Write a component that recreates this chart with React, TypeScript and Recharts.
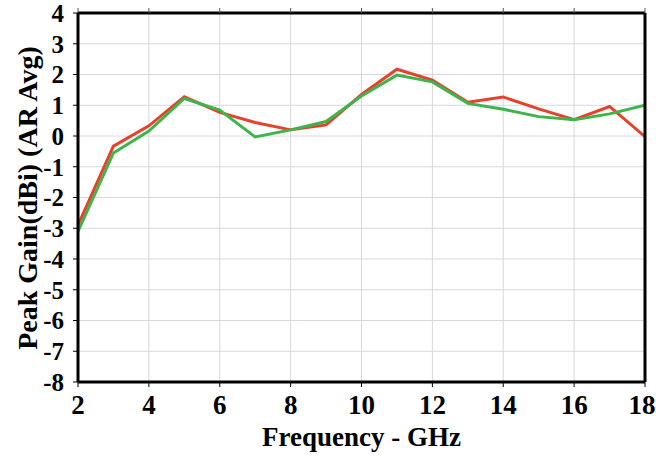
import React from "react";
import { LineChart, Line, XAxis, YAxis, CartesianGrid, Label } from "recharts";

const frequency = [2, 3, 4, 5, 6, 7, 8, 9, 10, 11, 12, 13, 14, 15, 16, 17, 18];
const redSeries = [-2.9, -0.33, 0.33, 1.28, 0.77, 0.44, 0.2, 0.36, 1.35, 2.17, 1.82, 1.1, 1.27, 0.88, 0.53, 0.96, -0.02];
const greenSeries = [-3.1, -0.55, 0.16, 1.22, 0.84, -0.03, 0.2, 0.47, 1.3, 1.98, 1.76, 1.06, 0.87, 0.63, 0.53, 0.72, 1.0];
const xTicks = [2, 4, 6, 8, 10, 12, 14, 16, 18];
const yTicks = [-8, -7, -6, -5, -4, -3, -2, -1, 0, 1, 2, 3, 4];

const data = frequency.map((f, i) => ({ f, red: redSeries[i], green: greenSeries[i] }));

const FONT = "Liberation Serif, Times New Roman, Times, Tinos, DejaVu Serif, serif";

const XTick = (props: any) => {
  const { x, y, payload } = props;
  const isLast = payload.value === xTicks[xTicks.length - 1];
  return (
    <text
      x={isLast ? x - 3 : x}
      y={y}
      dy="0.8em"
      textAnchor="middle"
      fontFamily={FONT}
      fontWeight={700}
      fontSize={27}
      fill="#000"
    >
      {payload.value}
    </text>
  );
};

export default function App() {
  return (
    <div style={{ position: "absolute", left: 0, top: 0, width: 656, height: 457, background: "#fff", fontFamily: FONT }}>
      <LineChart width={656} height={457} data={data} margin={{ top: 12, right: 10, bottom: 0, left: 0 }}>
        <CartesianGrid
          xAxisId="bottom"
          yAxisId="left"
          stroke="#d6d8de"
          strokeWidth={1}
          vertical
          horizontal
          verticalCoordinatesGenerator={(props: any) => {
            const s = props?.xAxis?.scale;
            if (s && typeof s === "function") return xTicks.map((t) => s(t));
            if (s && typeof s.map === "function") return xTicks.map((t) => s.map(t));
            return [];
          }}
        />
        <XAxis
          xAxisId="bottom"
          dataKey="f"
          type="number"
          domain={[2, 18]}
          ticks={xTicks}
          interval={0}
          height={75}
          axisLine={{ stroke: "#000", strokeWidth: 3 }}
          tickLine={{ stroke: "#000", strokeWidth: 1 }}
          tickSize={5}
          tickMargin={5}
          tick={<XTick />}
          allowDataOverflow
        >
          <Label
            value="Frequency - GHz"
            position="insideBottom"
            offset={11}
            style={{ fill: "#000", fontFamily: FONT, fontWeight: 700, fontSize: 27 }}
          />
        </XAxis>
        <XAxis
          xAxisId="top"
          dataKey="f"
          type="number"
          orientation="top"
          domain={[2, 18]}
          ticks={xTicks}
          interval={0}
          height={1}
          axisLine={{ stroke: "#000", strokeWidth: 3 }}
          tickLine={{ stroke: "#555", strokeWidth: 1 }}
          tickSize={5}
          tickFormatter={() => ""}
        />
        <YAxis
          yAxisId="left"
          type="number"
          domain={[-8, 4]}
          ticks={yTicks}
          interval={0}
          width={78}
          axisLine={{ stroke: "#000", strokeWidth: 3 }}
          tickLine={{ stroke: "#000", strokeWidth: 1 }}
          tickSize={5}
          tickMargin={9}
          tick={{ fill: "#000", fontFamily: FONT, fontWeight: 700, fontSize: 25 }}
          allowDataOverflow
        >
          <Label
            content={() => (
              <text
                x={37}
                y={198}
                transform="rotate(-90 37 198)"
                textAnchor="middle"
                fontFamily={FONT}
                fontWeight={700}
                fontSize={28}
                fill="#000"
              >
                Peak Gain(dBi) (AR Avg)
              </text>
            )}
          />
        </YAxis>
        <YAxis
          yAxisId="right"
          type="number"
          orientation="right"
          domain={[-8, 4]}
          ticks={yTicks}
          interval={0}
          width={1}
          axisLine={{ stroke: "#000", strokeWidth: 3 }}
          tickLine={{ stroke: "#555", strokeWidth: 1 }}
          tickSize={5}
          tickFormatter={() => ""}
        />
        <Line
          xAxisId="bottom"
          yAxisId="left"
          type="linear"
          dataKey="red"
          stroke="#e8402c"
          strokeWidth={3}
          dot={false}
          isAnimationActive={false}
        />
        <Line
          xAxisId="bottom"
          yAxisId="left"
          type="linear"
          dataKey="green"
          stroke="#3db54a"
          strokeWidth={3}
          dot={false}
          isAnimationActive={false}
        />
      </LineChart>
    </div>
  );
}
